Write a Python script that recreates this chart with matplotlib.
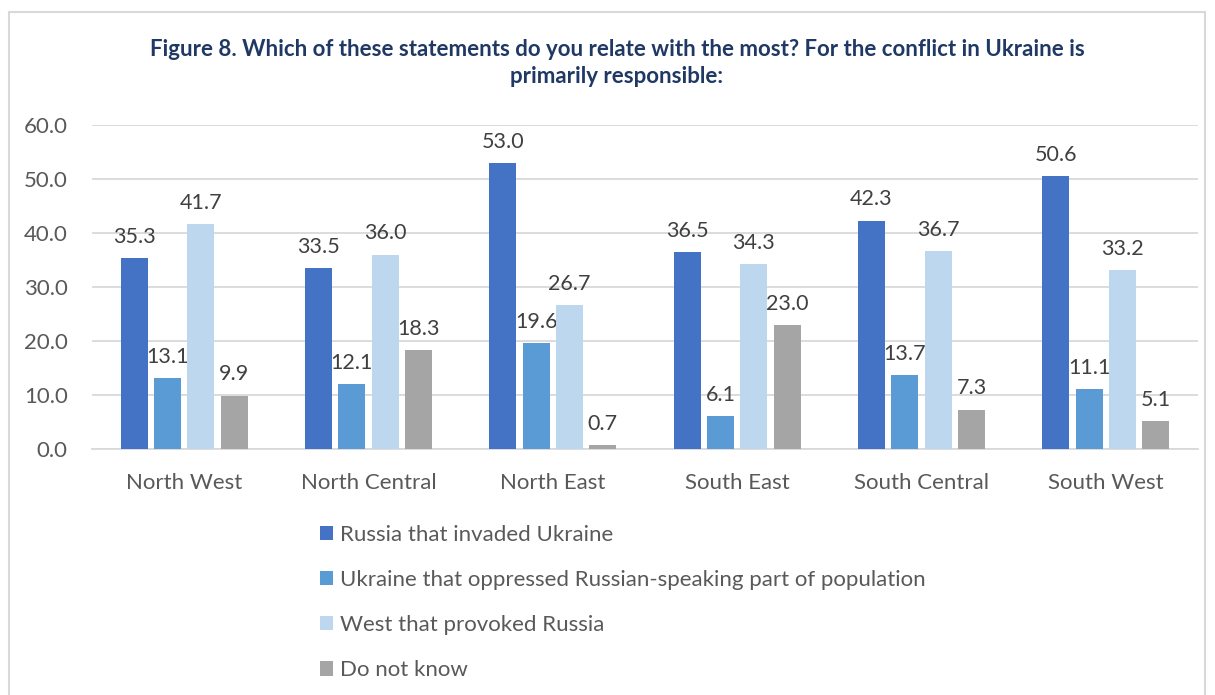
import numpy as np
import matplotlib.pyplot as plt
from matplotlib.patches import Rectangle

regions = ["North West", "North Central", "North East", "South East", "South Central", "South West"]
series_names = [
    "Russia that invaded Ukraine",
    "Ukraine that oppressed Russian-speaking part of population",
    "West that provoked Russia",
    "Do not know",
]
russia = [35.3, 33.5, 53.0, 36.5, 42.3, 50.6]
ukraine = [13.1, 12.1, 19.6, 6.1, 13.7, 11.1]
west = [41.7, 36.0, 26.7, 34.3, 36.7, 33.2]
dont_know = [9.9, 18.3, 0.7, 23.0, 7.3, 5.1]
colors = ["#4472C4", "#5B9BD5", "#BDD7EE", "#A5A5A5"]

plt.rcParams['font.family'] = ['Lato', 'DejaVu Sans']

fig = plt.figure(figsize=(12.15, 6.95), dpi=100)
fig.patches.append(Rectangle((9 / 1215, -0.05), 1196 / 1215, 1.05 - 12 / 695,
                             transform=fig.transFigure, fill=False,
                             edgecolor="#D9D9D9", lw=1.5))

ax = fig.add_axes([92 / 1215, 1 - 449 / 695, 1106 / 1215, 324 / 695])

x = np.arange(len(regions))
step = 0.181
width = 0.147
for i, (vals, name, c) in enumerate(zip([russia, ukraine, west, dont_know], series_names, colors)):
    bars = ax.bar(x + (i - 1.5) * step, vals, width, color=c, label=name, zorder=3)
    ax.bar_label(bars, labels=[f"{v:.1f}" for v in vals], padding=8,
                 fontsize=15.5, color="#404040")

ax.set_xlim(-0.5, len(regions) - 0.5)
ax.set_ylim(0, 60)
ax.set_yticks(np.arange(0, 61, 10))
ax.set_yticklabels([f"{v:.1f}" for v in np.arange(0, 61, 10)])
ax.set_xticks(x)
ax.set_xticklabels(regions)
ax.tick_params(length=0, labelsize=16, labelcolor="#595959")
ax.tick_params(axis='x', pad=17.5)
ax.tick_params(axis='y', pad=17.5)
ax.grid(axis='y', color="#D9D9D9", lw=1.3, zorder=0)
for s in ["top", "right", "left"]:
    ax.spines[s].set_visible(False)
ax.spines["bottom"].set_color("#D9D9D9")
ax.spines["bottom"].set_linewidth(1.3)

fig.text(617 / 1215, 1 - 63 / 695,
         "Figure 8. Which of these statements do you relate with the most? For the conflict in Ukraine is\nprimarily responsible:",
         ha="center", va="center", fontsize=16, fontweight="bold", color="#1F3864",
         linespacing=1.35)

handles, labels = ax.get_legend_handles_labels()
fig.legend(handles, labels, loc="upper left", bbox_to_anchor=(300 / 1215, 1 - 505 / 695),
           frameon=False, fontsize=16, labelcolor="#595959", handlelength=0.6,
           handleheight=0.6, handletextpad=0.3, labelspacing=1.13)

fig.savefig("out.png", dpi=100)
